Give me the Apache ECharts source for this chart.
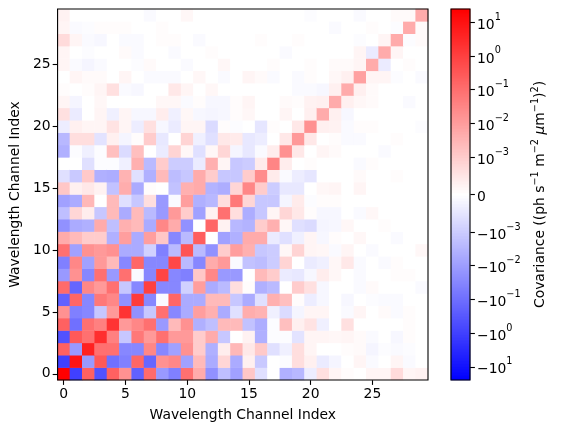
<!DOCTYPE html>
<html>
<head>
<meta charset="utf-8">
<style>html,body{margin:0;padding:0;background:#fff}#c{width:561px;height:432px}</style>
<script src="https://cdn.jsdelivr.net/npm/echarts@6/dist/echarts.min.js"></script>
</head>
<body>
<div id="c"></div>
<script>
// Covariance is symmetric. Each row holds channels x = y..29, given as the
// signed position on the symlog colour bar in percent (-100 .. 100).
const row00 = [100,-75,62,-68,62,43,-62,58,-40,-50,56,33,-43,-25,-37,22,-12,0,-31,-28,-7,12,4,1,0,4,4,14,4,5];
const row01 = [92,-40,65,-56,-50,60,-60,43,47,-37,27,-33,16,-33,6,-21,0,-1,13,6,-8,-4,0,4,-2,0,4,-2,0];
const row02 = [87,56,56,-47,-47,47,-47,-37,43,20,-31,7,28,9,21,-12,-6,13,4,0,0,1,2,-4,-1,-2,-1,0];
const row03 = [82,50,-22,53,40,56,40,40,20,33,-22,0,5,-31,-1,-1,-11,4,4,3,4,2,-2,0,-3,1,0];
const row04 = [80,40,47,56,-40,27,43,-31,-25,27,27,-24,-32,-1,25,6,11,-6,0,12,0,0,0,0,1,0];
const row05 = [80,-43,-22,56,-47,-33,38,31,-33,-12,32,30,-6,-14,-4,4,4,0,-2,4,0,2,-2,1,0];
const row06 = [77,-47,-2,60,-33,-33,27,27,-22,-33,-12,31,25,1,-7,-3,0,-3,0,-1,-2,-2,0,0];
const row07 = [75,-47,-47,-18,38,-33,-27,13,1,-31,-27,0,20,12,-3,0,0,-2,2,0,0,0,-2];
const row08 = [73,-47,-50,22,47,-40,-40,0,27,20,-8,-9,-3,7,3,0,-2,0,0,1,1,0];
const row09 = [72,-27,-47,33,40,-2,-24,-26,-20,17,0,-8,-6,3,9,-2,0,-2,1,0,0];
const row10 = [67,-27,-43,20,38,31,-22,-20,3,17,4,3,-2,4,0,-2,0,0,0,3];
const row11 = [63,0,-37,-31,33,33,-8,-12,-6,4,-3,1,0,3,0,0,-2,0,0];
const row12 = [60,5,-28,-30,20,31,3,-12,-14,-4,-3,3,0,0,1,0,0,0];
const row13 = [56,13,-32,-22,4,16,9,1,-3,-3,0,-2,3,0,0,0,0];
const row14 = [53,16,-22,-22,-4,8,-1,1,1,0,0,0,0,0,0,0];
const row15 = [47,20,-20,-9,-9,0,3,4,0,4,0,0,0,0,0];
const row16 = [45,8,-2,-7,-10,0,0,0,2,0,0,1,0,0];
const row17 = [48,7,0,1,0,0,0,-2,1,0,0,0,0];
const row18 = [43,9,0,4,2,0,0,0,-2,0,0,0];
const row19 = [40,9,0,1,-2,-2,0,0,1,0,0];
const row20 = [43,6,5,-2,1,1,0,0,0,-1];
const row21 = [33,6,-3,0,0,0,0,0,0];
const row22 = [33,6,3,2,0,0,-2,0];
const row23 = [33,6,2,0,0,0,0];
const row24 = [37,4,4,-1,0,-2];
const row25 = [33,-8,0,1,0];
const row26 = [33,4,0,0];
const row27 = [33,-1,2];
const row28 = [33,2];
const row29 = [33];
const upperRows = [row00,row01,row02,row03,row04,row05,row06,row07,row08,row09,
  row10,row11,row12,row13,row14,row15,row16,row17,row18,row19,
  row20,row21,row22,row23,row24,row25,row26,row27,row28,row29];

const channels = upperRows.map((_, i) => String(i));
const barTickValues = [10, 1, 0.1, 0.01, 0.001, 0, -0.001, -0.01, -0.1, -1, -10];
const barTickLabels = ['{b|10}{s|1}','{b|10}{s|0}','{b|10}{s|−1}','{b|10}{s|−2}','{b|10}{s|−3}','{b|0}',
  '{b|−10}{s|−3}','{b|−10}{s|−2}','{b|−10}{s|−1}','{b|−10}{s|0}','{b|−10}{s|1}'];

const cells = [];
upperRows.forEach((row, y) => row.forEach((v, k) => {
  const x = y + k;
  cells.push([x, y, v]);
  if (x !== y) cells.push([y, x, v]);
}));

// Symlog norm of the colour bar: linear below 1e-3, then one step per decade.
const LIN = 37.5 / 185.5 * 100, DEC = 33.7 / 185.5 * 100;
function symlogPct(v) {
  const a = Math.abs(v);
  const p = a <= 1e-3 ? LIN * a / 1e-3 : LIN + DEC * Math.log10(a / 1e-3);
  return v < 0 ? -p : p;
}
const tickPositions = barTickValues.map(symlogPct);

// Colour ramp of the bar (legend only): one step per pixel row
const rampLevels = [];
for (let i = 0; i < 371; i++) rampLevels.push(-100 + 200 * (i + 0.5) / 371);

const FONT = 'DejaVu Sans', FS = 13.9, SUP = 9.7;
const rich = {
  b: {fontFamily: FONT, fontSize: FS, color: '#000', lineHeight: 20, verticalAlign: 'bottom'},
  s: {fontFamily: FONT, fontSize: SUP, color: '#000', lineHeight: 20, verticalAlign: 'top'},
  i: {fontFamily: FONT, fontSize: FS, fontStyle: 'italic', color: '#000'}
};
const tick = {show: true, length: 4.9, alignWithLabel: true, lineStyle: {color: '#000', width: 1.1}};
const line = {show: false};
const labelStyle = {fontFamily: FONT, fontSize: FS, color: '#000'};

const chart = echarts.init(document.getElementById('c'), null, {renderer: 'canvas'});
chart.setOption({
  animation: false,
  backgroundColor: '#fff',
  grid: [
    {left: 57, top: 9, width: 371, height: 371, show: true, z: 5, borderColor: '#000', borderWidth: 1.1, backgroundColor: 'transparent'},
    {left: 451, top: 9, width: 19, height: 371, show: true, z: 5, borderColor: '#000', borderWidth: 1.1, backgroundColor: 'transparent'}
  ],
  xAxis: [
    {type: 'category', gridIndex: 0, data: channels, position: 'bottom', splitLine: {show: false}, splitArea: {show: false},
     axisLine: line, axisTick: Object.assign({interval: 4}, tick), axisLabel: Object.assign({interval: 4, margin: 7}, labelStyle),
     name: 'Wavelength Channel Index', nameLocation: 'middle', nameGap: 28, nameTextStyle: labelStyle},
    {type: 'category', gridIndex: 1, data: ['0'], axisLine: line, axisTick: {show: false}, axisLabel: {show: false}, splitLine: {show: false}}
  ],
  yAxis: [
    {type: 'category', gridIndex: 0, data: channels, position: 'left', splitLine: {show: false}, splitArea: {show: false},
     axisLine: line, axisTick: Object.assign({interval: 4}, tick), axisLabel: Object.assign({interval: 4, margin: 7}, labelStyle),
     name: 'Wavelength Channel Index', nameLocation: 'middle', nameGap: 32, nameTextStyle: labelStyle},
    {type: 'category', gridIndex: 1, data: rampLevels.map(String), axisLine: line, axisTick: {show: false}, axisLabel: {show: false}, splitLine: {show: false}},
    {type: 'value', gridIndex: 1, min: -100, max: 100, position: 'right', splitLine: {show: false},
     axisLine: line,
     axisTick: {show: true, length: 4.9, lineStyle: {color: '#000', width: 1.1}, customValues: tickPositions},
     axisLabel: {margin: 7, align: 'left', customValues: tickPositions, rich: rich,
       formatter: v => { let best = 0; tickPositions.forEach((p, i) => { if (Math.abs(p - v) < Math.abs(tickPositions[best] - v)) best = i; }); return barTickLabels[best]; }},
     name: 'Covariance ((ph s{s|−1} m{s|−2} {i|μ}m{s|−1}){s|2})', nameLocation: 'middle', nameGap: 60, nameRotate: 90,
     nameTextStyle: Object.assign({rich: rich}, labelStyle)}
  ],
  visualMap: {show: false, type: 'continuous', seriesIndex: [0, 1], dimension: 2, min: -100, max: 100,
    inRange: {color: ['#0000ff', '#ffffff', '#ff0000']}},
  series: [
    {type: 'heatmap', xAxisIndex: 0, yAxisIndex: 0, data: cells, silent: true, emphasis: {disabled: true}, progressive: 0},
    {type: 'heatmap', xAxisIndex: 1, yAxisIndex: 1, data: rampLevels.map((v, i) => [0, i, v]), silent: true, emphasis: {disabled: true}, progressive: 0}
  ]
});
</script>
</body>
</html>
